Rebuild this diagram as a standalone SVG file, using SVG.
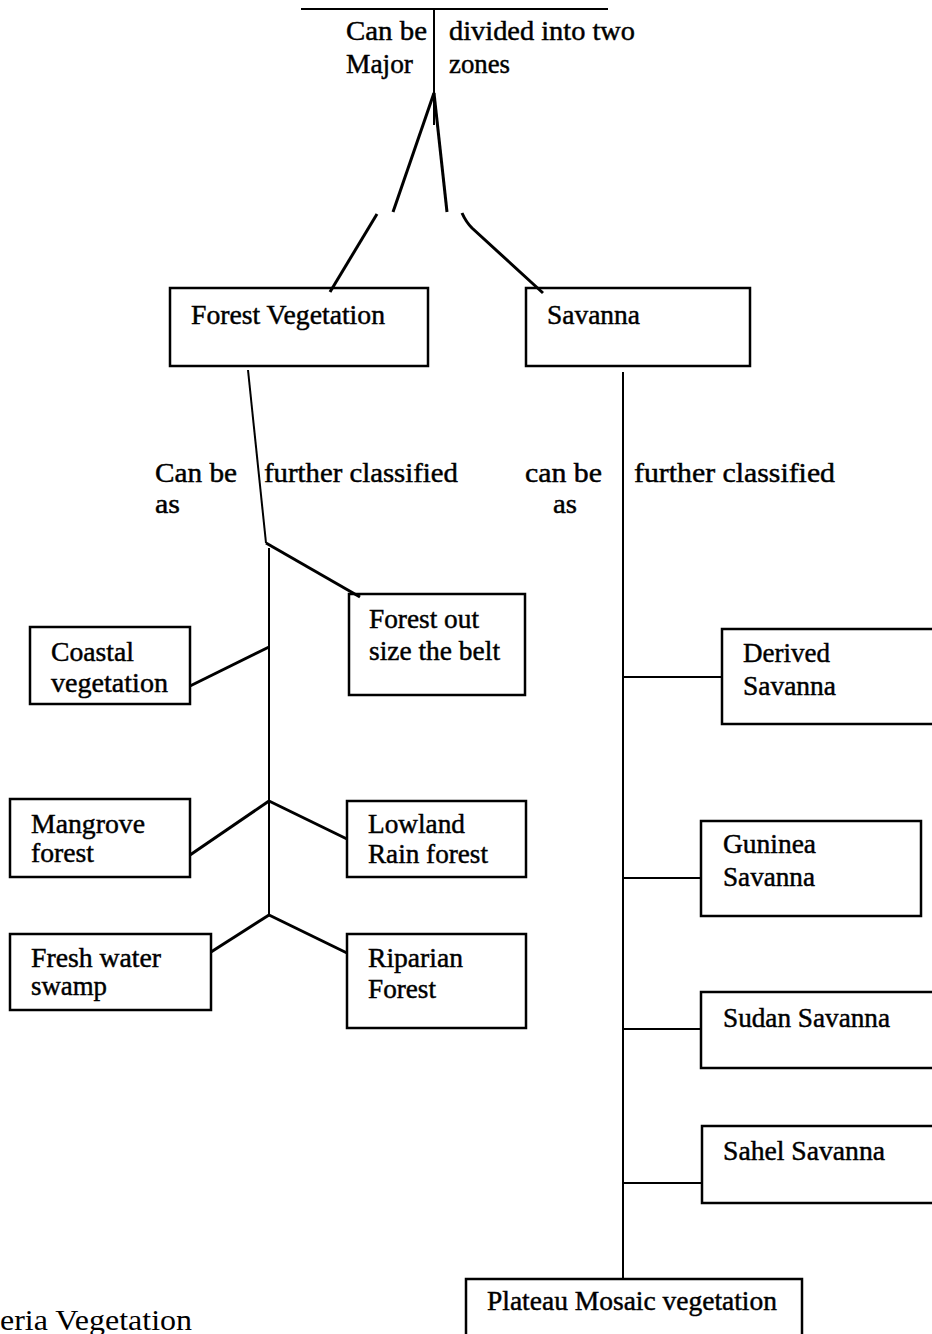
<svg xmlns="http://www.w3.org/2000/svg" width="932" height="1334" viewBox="0 0 932 1334">
<style>
.box{fill:none;stroke:#000;stroke-width:2.5}
.t{font-family:"Liberation Serif","Times New Roman",serif;font-size:27px;fill:#000;stroke:#000;stroke-width:0.45}
.ln{stroke:#000;stroke-width:2;fill:none}
.dl{stroke:#000;stroke-width:3;fill:none}
</style>
<rect width="932" height="1334" fill="#fff"/>
<g id="connectors">
<line class="ln" x1="301" y1="9" x2="608" y2="9" stroke-width="2.5"/>
<line class="ln" x1="434" y1="9" x2="434" y2="125"/>
<line class="dl" x1="434" y1="93" x2="393" y2="212"/>
<line class="dl" x1="377" y1="214" x2="330" y2="292"/>
<line class="dl" x1="434" y1="93" x2="447" y2="212"/>
<path class="dl" d="M462 213 Q466 222 472 228 L543 293"/>
<line class="ln" x1="248" y1="370" x2="266" y2="543"/>
<line class="ln" x1="269" y1="548" x2="269" y2="915"/>
<line class="dl" x1="266" y1="543" x2="360" y2="597"/>
<line class="dl" x1="190" y1="686" x2="269" y2="647"/>
<line class="dl" x1="269" y1="801" x2="190" y2="855"/>
<line class="dl" x1="269" y1="801" x2="347" y2="839"/>
<line class="dl" x1="269" y1="915" x2="211" y2="952"/>
<line class="dl" x1="269" y1="915" x2="347" y2="953"/>
<line class="ln" x1="623" y1="372" x2="623" y2="1279"/>
<line class="ln" x1="623" y1="677" x2="722" y2="677"/>
<line class="ln" x1="623" y1="878" x2="701" y2="878"/>
<line class="ln" x1="623" y1="1029" x2="701" y2="1029"/>
<line class="ln" x1="623" y1="1183" x2="702" y2="1183"/>
</g>
<g id="label-top">
<text class="t" x="346" y="40" textLength="81" lengthAdjust="spacingAndGlyphs">Can be</text>
<text class="t" x="449" y="40" textLength="186" lengthAdjust="spacingAndGlyphs">divided into two</text>
<text class="t" x="346" y="73" textLength="67" lengthAdjust="spacingAndGlyphs">Major</text>
<text class="t" x="449" y="73" textLength="61" lengthAdjust="spacingAndGlyphs">zones</text>
</g>
<g id="label-forest">
<text class="t" x="155" y="482" textLength="82" lengthAdjust="spacingAndGlyphs">Can be</text>
<text class="t" x="155" y="513" textLength="25" lengthAdjust="spacingAndGlyphs">as</text>
<text class="t" x="264" y="482" textLength="194" lengthAdjust="spacingAndGlyphs">further classified</text>
</g>
<g id="label-savanna">
<text class="t" x="525" y="482" textLength="77" lengthAdjust="spacingAndGlyphs">can be</text>
<text class="t" x="553" y="513" textLength="24" lengthAdjust="spacingAndGlyphs">as</text>
<text class="t" x="634" y="482" textLength="201" lengthAdjust="spacingAndGlyphs">further classified</text>
</g>
<g id="forest-vegetation">
<rect class="box" x="170" y="288" width="258" height="78"/>
<text class="t" x="191" y="324" textLength="194" lengthAdjust="spacingAndGlyphs">Forest Vegetation</text>
</g>
<g id="savanna">
<rect class="box" x="526" y="288" width="224" height="78"/>
<text class="t" x="547" y="324" textLength="93" lengthAdjust="spacingAndGlyphs">Savanna</text>
</g>
<g id="coastal">
<rect class="box" x="30" y="627" width="160" height="77"/>
<text class="t" x="51" y="661" textLength="83" lengthAdjust="spacingAndGlyphs">Coastal</text>
<text class="t" x="51" y="692" textLength="117" lengthAdjust="spacingAndGlyphs">vegetation</text>
</g>
<g id="forest-out">
<rect class="box" x="349" y="594" width="176" height="101"/>
<text class="t" x="369" y="628" textLength="110" lengthAdjust="spacingAndGlyphs">Forest out</text>
<text class="t" x="369" y="660" textLength="131" lengthAdjust="spacingAndGlyphs">size the belt</text>
</g>
<g id="mangrove">
<rect class="box" x="10" y="799" width="180" height="78"/>
<text class="t" x="31" y="833" textLength="114" lengthAdjust="spacingAndGlyphs">Mangrove</text>
<text class="t" x="31" y="862" textLength="63" lengthAdjust="spacingAndGlyphs">forest</text>
</g>
<g id="lowland">
<rect class="box" x="347" y="801" width="179" height="76"/>
<text class="t" x="368" y="833" textLength="97" lengthAdjust="spacingAndGlyphs">Lowland</text>
<text class="t" x="368" y="863" textLength="120" lengthAdjust="spacingAndGlyphs">Rain forest</text>
</g>
<g id="fresh-water">
<rect class="box" x="10" y="934" width="201" height="76"/>
<text class="t" x="31" y="967" textLength="130" lengthAdjust="spacingAndGlyphs">Fresh water</text>
<text class="t" x="31" y="995" textLength="76" lengthAdjust="spacingAndGlyphs">swamp</text>
</g>
<g id="riparian">
<rect class="box" x="347" y="934" width="179" height="94"/>
<text class="t" x="368" y="967" textLength="95" lengthAdjust="spacingAndGlyphs">Riparian</text>
<text class="t" x="368" y="998" textLength="68" lengthAdjust="spacingAndGlyphs">Forest</text>
</g>
<g id="derived">
<rect class="box" x="722" y="629" width="230" height="95"/>
<text class="t" x="743" y="662" textLength="87" lengthAdjust="spacingAndGlyphs">Derived</text>
<text class="t" x="743" y="695" textLength="93" lengthAdjust="spacingAndGlyphs">Savanna</text>
</g>
<g id="guninea">
<rect class="box" x="701" y="821" width="220" height="95"/>
<text class="t" x="723" y="853" textLength="93" lengthAdjust="spacingAndGlyphs">Guninea</text>
<text class="t" x="723" y="886" textLength="92" lengthAdjust="spacingAndGlyphs">Savanna</text>
</g>
<g id="sudan">
<rect class="box" x="701" y="992" width="250" height="76"/>
<text class="t" x="723" y="1027" textLength="167" lengthAdjust="spacingAndGlyphs">Sudan Savanna</text>
</g>
<g id="sahel">
<rect class="box" x="702" y="1126" width="250" height="77"/>
<text class="t" x="723" y="1160" textLength="162" lengthAdjust="spacingAndGlyphs">Sahel Savanna</text>
</g>
<g id="plateau">
<rect class="box" x="466" y="1279" width="336" height="70"/>
<text class="t" x="487" y="1310" textLength="290" lengthAdjust="spacingAndGlyphs">Plateau Mosaic vegetation</text>
</g>
<g id="caption">
<text x="0" y="1330" style="font-family:'Liberation Serif','Times New Roman',serif;font-size:29px;fill:#000" textLength="192" lengthAdjust="spacingAndGlyphs">eria Vegetation</text>
</g>
</svg>
